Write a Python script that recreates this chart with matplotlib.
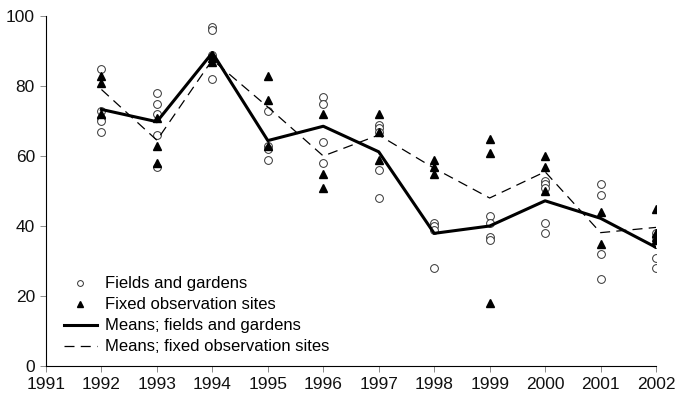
import matplotlib
matplotlib.use("Agg")
import matplotlib.pyplot as plt

plt.rcParams["font.family"] = ["Liberation Sans", "DejaVu Sans"]

years = [1992, 1993, 1994, 1995, 1996, 1997, 1998, 1999, 2000, 2001, 2002]

fields = [
    [85, 73, 71, 70, 67],
    [78, 75, 72, 66, 57],
    [97, 96, 89, 82],
    [73, 63, 62, 59],
    [77, 75, 64, 58],
    [69, 68, 67, 56, 48],
    [41, 40, 39, 28],
    [43, 41, 37, 36],
    [53, 52, 51, 41, 38],
    [52, 49, 32, 25],
    [38, 37, 35, 31, 28],
]
fixed = [
    [83, 81, 72],
    [71, 63, 58],
    [89, 88, 87],
    [83, 76, 63],
    [72, 55, 51],
    [72, 67, 59],
    [59, 57, 55],
    [65, 61, 18],
    [60, 57, 50],
    [44, 35],
    [45, 38, 37, 36],
]
mean_fields = [73.3, 69.8, 89.5, 64.4, 68.5, 61.2, 37.9, 40.0, 47.2, 42.2, 33.9]
mean_fixed = [79.0, 64.5, 87.5, 74.0, 60.0, 66.0, 56.5, 48.0, 55.5, 38.1, 39.6]

fig = plt.figure(figsize=(6.87, 3.97), dpi=100)
ax = fig.add_axes([46 / 687, 31 / 397, 610 / 687, 350 / 397])

fx = [y for y, vals in zip(years, fields) for _ in vals]
fy = [v for vals in fields for v in vals]
tx = [y for y, vals in zip(years, fixed) for _ in vals]
ty = [v for vals in fixed for v in vals]

ax.plot(fx, fy, "o", mfc="white", mec="#333333", mew=0.7, ms=5.6,
        label="Fields and gardens", zorder=3)
ax.plot(tx, ty, "^", color="black", ms=6, label="Fixed observation sites",
        zorder=4)
ax.plot(years, mean_fields, "-", color="black", lw=2.2,
        label="Means; fields and gardens", zorder=5)
ax.plot(years, mean_fixed, "--", color="black", lw=0.9, dashes=(8, 5),
        label="Means; fixed observation sites", zorder=5)

ax.set_xlim(1991, 2002)
ax.set_ylim(0, 100)
ax.set_xticks(range(1991, 2003))
ax.set_yticks(range(0, 101, 20))
for s in ["top", "right"]:
    ax.spines[s].set_visible(False)
for s in ["left", "bottom"]:
    ax.spines[s].set_linewidth(0.8)
ax.tick_params(length=4, width=0.6, color="#777777", labelsize=12.5, pad=4,
               labelcolor="#111111")

ax.legend(loc="lower left", bbox_to_anchor=(0.01, 0.0), frameon=False,
          fontsize=12, handlelength=2.0, labelspacing=0.36,
          handletextpad=0.5, borderaxespad=0.3, markerscale=0.75)

fig.savefig("out.png", dpi=100)
